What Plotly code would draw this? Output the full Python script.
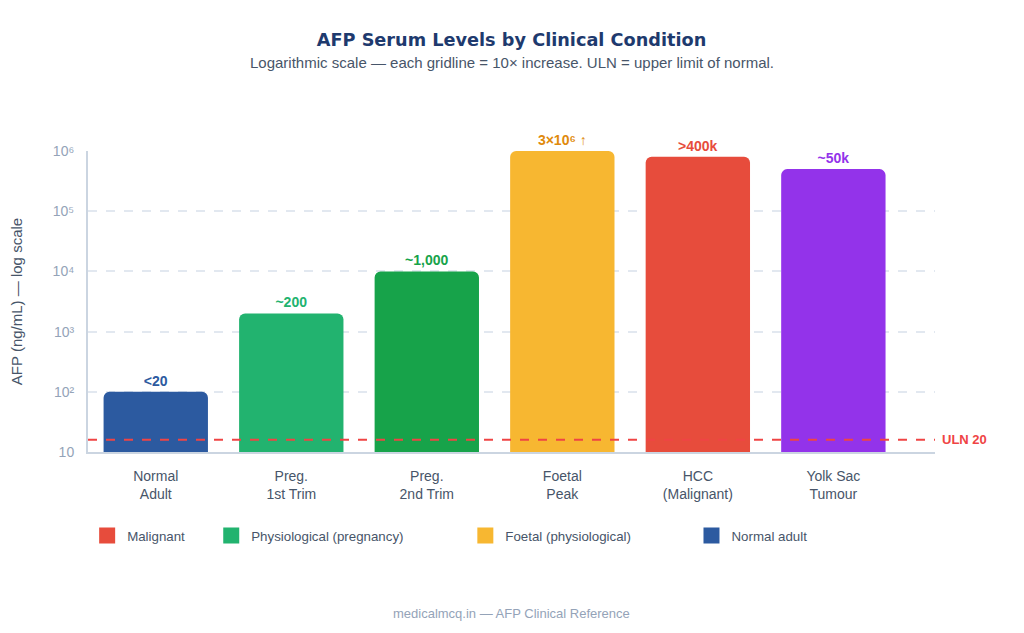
import math
import plotly.graph_objects as go

categories = ["Normal<br>Adult", "Preg.<br>1st Trim", "Preg.<br>2nd Trim", "Foetal<br>Peak", "HCC<br>(Malignant)", "Yolk Sac<br>Tumour"]
bar_values = [100, 2000, 10000, 1000000, 800000, 500000]
bar_labels = ["<20", "~200", "~1,000", "3×10⁶ ↑", ">400k", "~50k"]
bar_colors = ["#2c5aa0", "#22b36f", "#17a34a", "#f7b731", "#e74c3c", "#9333ea"]
label_colors = ["#2c5aa0", "#22b36f", "#17a34a", "#e08a0c", "#e74c3c", "#9333ea"]

ytick_vals = [10, 100, 1000, 10000, 100000, 1000000]
ytick_text = ["10", "10²", "10³", "10⁴", "10⁵", "10⁶"]

uln_value = 16
uln_label = "ULN 20"

legend_names = ["Malignant", "Physiological (pregnancy)", "Foetal (physiological)", "Normal adult"]
legend_colors = ["#e74c3c", "#22b36f", "#f7b731", "#2c5aa0"]
legend_x = [-0.001, 0.1455, 0.4455, 0.7125]

FONT = "Liberation Sans, Arial, sans-serif"

fig = go.Figure()
fig.add_trace(go.Bar(
    x=categories, y=bar_values,
    marker=dict(color=bar_colors, cornerradius=6, line=dict(width=0)),
    text=bar_labels, textposition="outside", cliponaxis=False,
    textfont=dict(family=FONT, size=14, color=label_colors, weight="bold"),
    showlegend=False, hoverinfo="skip",
))

layout_legends = {}
for i, (name, col) in enumerate(zip(legend_names, legend_colors)):
    key = "legend" if i == 0 else f"legend{i+1}"
    fig.add_trace(go.Scatter(
        x=[None], y=[None], mode="markers", name=name,
        marker=dict(symbol="square", size=16, color=col),
        legend=key,
    ))
    layout_legends[key] = dict(
        x=legend_x[i], y=-0.279, xref="paper", yref="paper",
        xanchor="left", yanchor="middle", orientation="h",
        font=dict(family=FONT, size=13.3, color="#475569"),
        bgcolor="rgba(0,0,0,0)", itemwidth=30,
    )

fig.add_shape(type="line", xref="paper", x0=0, x1=1, yref="y",
              y0=uln_value, y1=uln_value,
              line=dict(color="#ef4444", width=2, dash="dash"))
fig.add_annotation(xref="paper", x=1, yref="y", y=math.log10(uln_value),
                   text=f"<b>{uln_label}</b>", showarrow=False, xanchor="left", yanchor="middle", xshift=5,
                   font=dict(family=FONT, size=13, color="#ef4444"))

fig.add_annotation(xref="paper", yref="paper", x=0.5, y=1.295, xanchor="center", yanchor="middle",
                   text="Logarithmic scale — each gridline = 10× increase. ULN = upper limit of normal.",
                   showarrow=False, font=dict(family=FONT, size=15, color="#475569"))

fig.add_annotation(xref="paper", yref="paper", x=0.5, y=-0.535, xanchor="center", yanchor="middle",
                   text="medicalmcq.in — AFP Clinical Reference",
                   showarrow=False, font=dict(family=FONT, size=13, color="#94a3b8"))

fig.update_layout(
    width=1024, height=633,
    margin=dict(l=80, r=97, t=143, b=189, autoexpand=False),
    paper_bgcolor="white", plot_bgcolor="white",
    bargap=0.23,
    title=dict(
        text="<b>AFP Serum Levels by Clinical Condition</b>",
        x=0.5, xanchor="center", xref="paper", y=1 - 32 / 633, yanchor="middle",
        font=dict(family="DejaVu Sans, sans-serif", size=17.7, color="#1e3a6e"),
    ),
    font=dict(family=FONT),
    **layout_legends,
)
fig.update_xaxes(
    range=[-0.5, 5.75], showgrid=False, showline=True, linecolor="#cbd5e1", linewidth=2,
    tickfont=dict(family=FONT, size=14, color="#475569"), ticks="", ticklabelstandoff=10,
    fixedrange=True, automargin=False,
)
fig.update_yaxes(
    type="log", range=[1, 6], tickvals=ytick_vals, ticktext=ytick_text,
    showgrid=True, gridcolor="#e2e8f0", griddash="dash", gridwidth=1.5,
    showline=True, linecolor="#cbd5e1", linewidth=2, zeroline=False, automargin=False,
    tickfont=dict(family=FONT, size=14, color="#94a3b8"), ticks="", ticklabelstandoff=9,
    title=dict(text="AFP (ng/mL) — log scale", font=dict(family=FONT, size=15, color="#475569"), standoff=29),
)
fig.write_html("out.html")
